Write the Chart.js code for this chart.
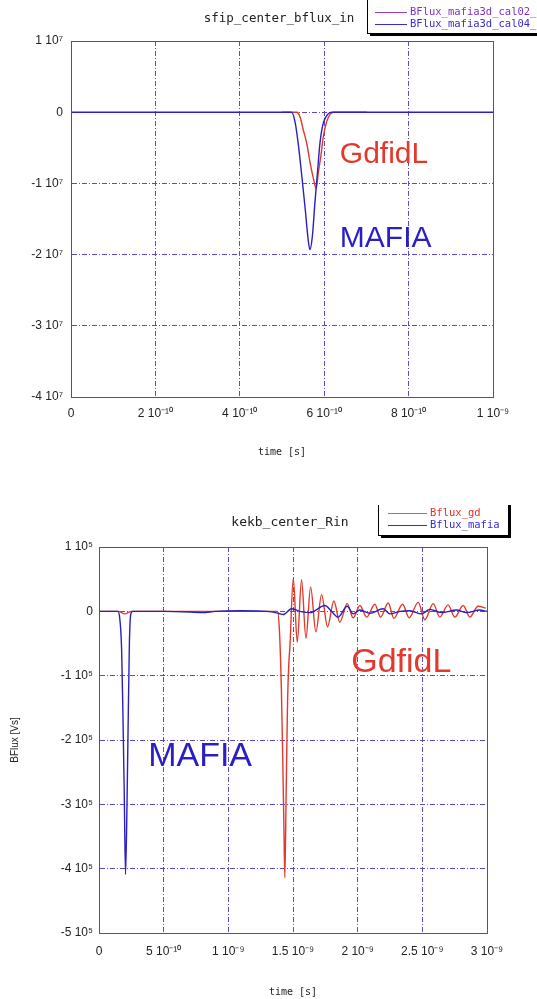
<!DOCTYPE html>
<html>
<head>
<meta charset="utf-8">
<script src="https://cdn.jsdelivr.net/npm/chart.js@4.4.0/dist/chart.umd.min.js"></script>
<style>
    html, body { margin: 0; padding: 0; background: #fff; }
    body { width: 537px; height: 999px; position: relative; overflow: hidden; }
    canvas { position: absolute; left: 0; }
    #topChart { top: 0; }
    #botChart { top: 505px; }
</style>
</head>
<body>
<canvas id="topChart" width="537" height="480"></canvas>
<canvas id="botChart" width="537" height="494"></canvas>
<script>
'use strict';

// ---------------------------------------------------------------------------
// data (time in 1e-10 s, flux in 1e7 [top] / 1e5 Vs [bottom])
// ---------------------------------------------------------------------------

const topTitle        = 'sfip_center_bflux_in';
const topLegendLabels = ['BFlux_mafia3d_cal02_t1', 'BFlux_mafia3d_cal04_t0'];
const topXTicks       = ['0', '2 10⁻¹⁰', '4 10⁻¹⁰', '6 10⁻¹⁰', '8 10⁻¹⁰', '1 10⁻⁹'];
const topYTicks       = ['-4 10⁷', '-3 10⁷', '-2 10⁷', '-1 10⁷', '0', '1 10⁷'];

const topGdTime    = [5.0, 5.35, 5.43, 5.50, 5.59, 5.66, 5.74, 5.81, 5.86, 5.92, 5.98, 6.06, 6.14, 6.22, 7.0];
const topGdFlux    = [0, 0, -0.07, -0.24, -0.45, -0.69, -0.92, -1.07, -0.85, -0.62, -0.34, -0.13, -0.03, 0, 0];
const topMafiaTime = [0, 5.0, 5.23, 5.31, 5.39, 5.47, 5.55, 5.62, 5.66, 5.72, 5.78, 5.84, 5.90, 5.98, 6.10, 6.18, 10];
const topMafiaFlux = [0, 0, 0, -0.14, -0.47, -0.90, -1.36, -1.79, -1.93, -1.74, -1.27, -0.85, -0.43, -0.15, -0.02, 0, 0];

const botTitle        = 'kekb_center_Rin';
const botLegendLabels = ['Bflux_gd', 'Bflux_mafia'];
const botXTicks       = ['0', '5 10⁻¹⁰', '1 10⁻⁹', '1.5 10⁻⁹', '2 10⁻⁹', '2.5 10⁻⁹', '3 10⁻⁹'];
const botYTicks       = ['-5 10⁵', '-4 10⁵', '-3 10⁵', '-2 10⁵', '-1 10⁵', '0', '1 10⁵'];

const botGdTime = [0, 1.5, 2.0, 2.5, 13.8, 13.95, 14.1, 14.2, 14.3, 14.37, 14.47, 14.58, 14.68, 14.76, 15.02,
                   15.33, 15.66, 16.0, 16.36, 16.77, 17.21, 17.67, 18.16, 18.62, 19.19, 19.65, 20.17, 20.69,
                   21.33, 21.77, 22.36, 22.8, 23.47, 23.98, 24.68, 25.19, 25.84, 26.35, 26.99, 27.51, 28.16,
                   28.67, 29.31, 29.9];
const botGdFlux = [0, 0, -0.04, 0, 0, -0.3, -1.2, -2.2, -3.4, -4.14, -2.8, -1.4, -0.8, -0.55, 0.51,
                   -0.48, 0.49, -0.42, 0.38, -0.32, 0.26, -0.24, 0.16, -0.17, 0.12, -0.10, 0.09, -0.09,
                   0.11, -0.09, 0.13, -0.11, 0.11, -0.10, 0.14, -0.13, 0.12, -0.09, 0.10, -0.09, 0.09,
                   -0.09, 0.08, 0.05];
const botMafiaTime = [0, 1.45, 1.6, 1.75, 1.85, 1.95, 2.05, 2.15, 2.25, 2.35, 2.45, 2.6, 5, 7, 8, 9, 11, 13,
                      13.86, 14.24, 14.89, 15.53, 16.31, 17.47, 17.98, 18.49, 19.19, 19.65, 20.17, 20.94,
                      21.97, 22.49, 23.26, 24.03, 24.94, 25.58, 26.48, 27.64, 28.42, 29.44, 30];
const botMafiaFlux = [0, 0, -0.1, -0.6, -1.6, -2.8, -4.09, -3.2, -1.8, -0.5, -0.05, 0, 0, -0.01, -0.02, 0, 0.01, 0,
                      -0.03, -0.05, 0.04, 0, -0.02, 0.09, 0, -0.09, 0.08, -0.04, 0.02, -0.03,
                      0.04, -0.04, 0, 0.01, -0.04, 0.03, -0.02, 0.02, -0.02, 0.02, 0];

// ---------------------------------------------------------------------------
// styles
// ---------------------------------------------------------------------------

const GRID_COLOR  = '#5a4cc6';
const AXIS_COLOR  = '#5b3fc4';
const RED         = '#e2392c';
const BLUE        = '#2b1fc4';
const SANS        = 'Liberation Sans, Arial, sans-serif';
const MONO        = 'DejaVu Sans Mono, monospace';

const toPoints = (xs, ys) => xs.map((x, i) => ({ x, y: ys[i] }));

// frame, title, boxed legend and the big GdfidL / MAFIA notes
const decorPlugin = {
    id: 'decor',
    afterDraw(chart, args, o) {
        const ctx = chart.ctx;
        const a   = chart.chartArea;
        ctx.save();

        ctx.strokeStyle = AXIS_COLOR;
        ctx.lineWidth   = 1;
        ctx.strokeRect(a.left + 0.5, a.top + 0.5, a.right - a.left, a.bottom - a.top);

        ctx.font         = o.titleFont;
        ctx.fillStyle    = '#222';
        ctx.textAlign    = 'center';
        ctx.textBaseline = 'middle';
        ctx.fillText(o.title, o.titleX, o.titleY);

        const b = o.box;
        ctx.fillStyle = '#000';
        ctx.fillRect(b.x + 3, b.y + 3, b.w, b.h);
        ctx.fillStyle = '#fff';
        ctx.fillRect(b.x, b.y, b.w, b.h);
        ctx.strokeStyle = '#000';
        ctx.strokeRect(b.x + 0.5, b.y + 0.5, b.w, b.h);
        ctx.font      = `10.5px ${MONO}`;
        ctx.textAlign = 'left';
        o.items.forEach((it, i) => {
            const y = b.firstY + i * b.step;
            ctx.strokeStyle = it.line;
            ctx.beginPath();
            ctx.moveTo(b.lineX0, y + 0.5);
            ctx.lineTo(b.lineX1, y + 0.5);
            ctx.stroke();
            ctx.fillStyle = it.color;
            ctx.fillText(it.text, b.textX, y);
        });

        ctx.textBaseline = 'alphabetic';
        o.notes.forEach((n) => {
            ctx.font      = n.font;
            ctx.fillStyle = n.color;
            ctx.fillText(n.text, chart.scales.x.getPixelForValue(n.t), chart.scales.y.getPixelForValue(n.v));
        });
        ctx.restore();
    },
};

function lineSet(label, xs, ys, color, order) {
    return {
        label,
        data: toPoints(xs, ys),
        borderColor: color,
        borderWidth: 1.4,
        pointRadius: 0,
        fill: false,
        cubicInterpolationMode: 'monotone',
        order,
    };
}

function axis(min, max, step, labels, pad, extra) {
    return Object.assign({
        type: 'linear',
        min, max,
        ticks: {
            stepSize: step,
            autoSkip: false,
            maxRotation: 0,
            padding: pad,
            color: '#222',
            font: { family: SANS, size: 12 },
            callback: (v, i) => labels[i],
        },
        grid: { color: GRID_COLOR, lineWidth: 1, drawTicks: false },
        border: { color: AXIS_COLOR, width: 1, dash: [5, 2, 1, 2] },
    }, extra);
}

// ---------------------------------------------------------------------------
// top chart
// ---------------------------------------------------------------------------

new Chart(document.getElementById('topChart'), {
    type: 'line',
    data: {
        datasets: [
            lineSet(topLegendLabels[1], topMafiaTime, topMafiaFlux, BLUE, 0),
            lineSet(topLegendLabels[0], topGdTime, topGdFlux, RED, 1),
        ],
    },
    options: {
        responsive: false,
        animation: false,
        devicePixelRatio: 1,
        layout: { padding: { left: 0, right: 44, top: 41, bottom: 0 } },
        plugins: {
            legend: { display: false },
            tooltip: { enabled: false },
            decor: {
                title: topTitle, titleX: 279, titleY: 19, titleFont: `12.5px ${MONO}`,
                box: { x: 367, y: -6, w: 200, h: 39, firstY: 12, step: 12, lineX0: 375, lineX1: 407, textX: 410 },
                items: [
                    { text: topLegendLabels[0], line: '#a03cc8', color: '#7a34c8' },
                    { text: topLegendLabels[1], line: '#3a2ad0', color: '#3a2ad0' },
                ],
                notes: [
                    { text: 'GdfidL', t: 6.37, v: -0.71, color: RED,  font: `30px ${SANS}` },
                    { text: 'MAFIA',  t: 6.37, v: -1.90, color: BLUE, font: `30px ${SANS}` },
                ],
            },
        },
        scales: {
            x: axis(0, 10, 2, topXTicks, 9, {
                afterFit: (s) => { s.height = 83; },
                title: { display: true, text: 'time [s]', color: '#222', font: { family: MONO, size: 10 },
                         padding: { top: 0, bottom: 22 } },
            }),
            y: axis(-4, 1, 1, topYTicks, 8, {
                afterFit: (s) => { s.width = 71; },
            }),
        },
    },
    plugins: [decorPlugin],
});

// ---------------------------------------------------------------------------
// bottom chart
// ---------------------------------------------------------------------------

new Chart(document.getElementById('botChart'), {
    type: 'line',
    data: {
        datasets: [
            lineSet(botLegendLabels[1], botMafiaTime, botMafiaFlux, BLUE, 0),
            lineSet(botLegendLabels[0], botGdTime, botGdFlux, RED, 1),
        ],
    },
    options: {
        responsive: false,
        animation: false,
        devicePixelRatio: 1,
        layout: { padding: { left: 0, right: 50, top: 42, bottom: 0 } },
        plugins: {
            legend: { display: false },
            tooltip: { enabled: false },
            decor: {
                title: botTitle, titleX: 290, titleY: 18, titleFont: `13px ${MONO}`,
                box: { x: 378, y: -6, w: 130, h: 36, firstY: 8, step: 12, lineX0: 388, lineX1: 427, textX: 430 },
                items: [
                    { text: botLegendLabels[0], line: '#e0603c', color: '#e0302c' },
                    { text: botLegendLabels[1], line: '#3a2ad0', color: '#3a2ad0' },
                ],
                notes: [
                    { text: 'GdfidL', t: 19.5, v: -0.94, color: RED,  font: `34px ${SANS}` },
                    { text: 'MAFIA',  t: 3.8,  v: -2.41, color: BLUE, font: `34px ${SANS}` },
                ],
            },
        },
        scales: {
            x: axis(0, 30, 5, botXTicks, 11, {
                afterFit: (s) => { s.height = 66; },
                title: { display: true, text: 'time [s]', color: '#222', font: { family: MONO, size: 10 },
                         padding: { top: 0, bottom: 1 } },
            }),
            y: axis(-5, 1, 1, botYTicks, 6, {
                afterFit: (s) => { s.width = 99; },
                title: { display: true, text: 'BFlux [Vs]', color: '#222',
                         font: { family: SANS, size: 10 },
                         padding: { top: 9, bottom: 0 } },
            }),
        },
    },
    plugins: [decorPlugin],
});
</script>
</body>
</html>
